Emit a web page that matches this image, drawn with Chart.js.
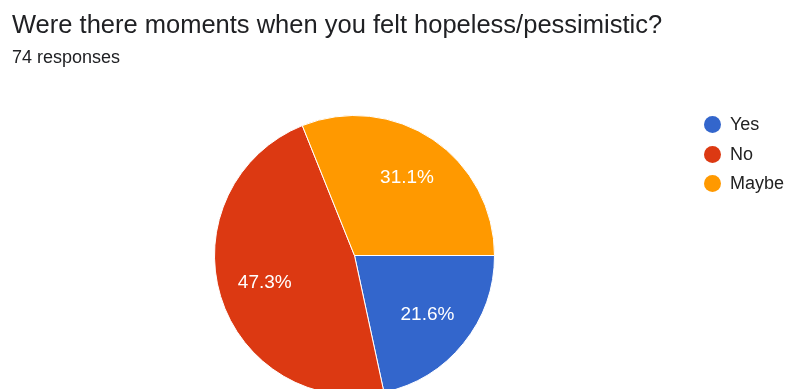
<!DOCTYPE html>
<html>
<head>
<meta charset="utf-8">
<script src="https://cdn.jsdelivr.net/npm/chart.js@4/dist/chart.umd.min.js"></script>
<style>
  html, body { margin: 0; padding: 0; width: 785px; height: 389px; overflow: hidden; background: #fff; }
  #wrap { position: relative; width: 785px; height: 389px; overflow: hidden; }
  #title { position: absolute; left: 12px; top: 10px; font-family: "Liberation Sans", Arial, sans-serif; font-size: 25.5px; color: #202124; white-space: nowrap; line-height: 28px; }
  #sub { position: absolute; left: 12px; top: 47px; font-family: "Liberation Sans", Arial, sans-serif; font-size: 18px; color: #202124; white-space: nowrap; line-height: 20px; }
  canvas { position: absolute; left: 0; top: 0; }
  #legend { position: absolute; left: 704px; top: 114px; font-family: "Liberation Sans", Arial, sans-serif; font-size: 18px; color: #222; }
  .item { position: relative; height: 29.5px; white-space: nowrap; }
  .dot { position: absolute; left: 0; top: 2px; width: 17px; height: 17px; border-radius: 50%; }
  .lab { position: absolute; left: 26px; top: 0px; line-height: 20px; }
</style>
</head>
<body>
<div id="wrap">
  <canvas id="c" width="785" height="440"></canvas>
  <div id="title">Were there moments when you felt hopeless/pessimistic?</div>
  <div id="sub">74 responses</div>
  <div id="legend"></div>
</div>
<script>
const categories = ["Yes", "No", "Maybe"];
const counts = [16, 35, 23];
const colors = ["#3366cc", "#dc3912", "#ff9900"];

const total = counts.reduce((a, b) => a + b, 0);

const legendEl = document.getElementById('legend');
categories.forEach((name, i) => {
  const it = document.createElement('div');
  it.className = 'item';
  it.innerHTML = '<span class="dot" style="background:' + colors[i] + '"></span><span class="lab">' + name + '</span>';
  legendEl.appendChild(it);
});

const pctLabels = {
  id: 'pctLabels',
  afterDatasetsDraw(chart) {
    const ctx = chart.ctx;
    const meta = chart.getDatasetMeta(0);
    ctx.save();
    ctx.fillStyle = '#ffffff';
    ctx.font = '19px "Liberation Sans", Arial, sans-serif';
    ctx.textAlign = 'center';
    ctx.textBaseline = 'middle';
    meta.data.forEach((arc, i) => {
      const p = arc.getProps(['x', 'y', 'startAngle', 'endAngle', 'outerRadius'], true);
      const mid = (p.startAngle + p.endAngle) / 2;
      const r = p.outerRadius * 0.67;
      const txt = (counts[i] / total * 100).toFixed(1) + '%';
      ctx.fillText(txt, p.x + Math.cos(mid) * r, p.y + Math.sin(mid) * r);
    });
    ctx.restore();
  }
};

new Chart(document.getElementById('c'), {
  type: 'pie',
  data: {
    labels: categories,
    datasets: [{
      data: counts,
      backgroundColor: colors,
      borderColor: '#ffffff',
      borderWidth: 1,
      hoverOffset: 0
    }]
  },
  options: {
    responsive: false,
    animation: false,
    rotation: 90,
    layout: { padding: { left: 214, right: 290, top: 115, bottom: 44 } },
    plugins: {
      legend: { display: false },
      tooltip: { enabled: false },
      title: { display: false }
    }
  },
  plugins: [pctLabels]
});
</script>
</body>
</html>
